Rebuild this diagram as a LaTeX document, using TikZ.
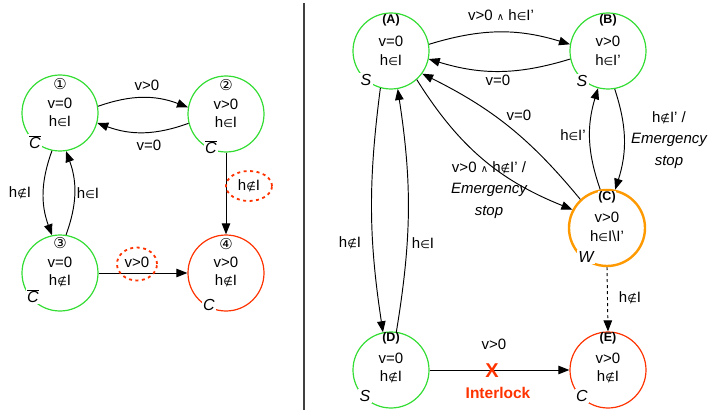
\documentclass[tikz,border=0pt]{standalone}
\usepackage{fontspec}
\setmainfont{Liberation Sans}
\newfontfamily\symf{DejaVu Sans}
\usetikzlibrary{arrows.meta,shapes.geometric}
\definecolor{gr}{HTML}{33DD33}
\definecolor{rd}{HTML}{FF3300}
\definecolor{og}{HTML}{FF9900}
\newcommand{\sIn}{{\symf\fontsize{11}{11}\selectfont ∈}}
\newcommand{\sNin}{{\symf\fontsize{11}{11}\selectfont ∉}}
\newcommand{\sAnd}{{\symf\fontsize{10}{10}\selectfont ∧}}
\newcommand{\cnum}[1]{{\symf\fontsize{15}{15}\selectfont #1}}
\newcommand{\cbar}{$\overline{\mbox{\itshape C}}$}
\begin{document}
\begin{tikzpicture}[x=1pt,y=1pt,
 state/.style={circle, minimum size=76pt, inner sep=0pt, line width=1.2pt},
 ok/.style={state, draw=gr},
 bad/.style={state, draw=rd},
 warn/.style={state, draw=og, line width=2.4pt},
 txt/.style={inner sep=0pt, font=\fontsize{15}{15}\selectfont},
 ttl/.style={inner sep=0pt, font=\fontsize{12.5}{12.5}\selectfont\bfseries},
 tag/.style={inner sep=1.5pt, fill=white, font=\fontsize{16}{16}\selectfont\itshape},
 lbl/.style={inner sep=0pt, font=\fontsize{15}{21.5}\selectfont, align=center},
 arr/.style={-{Triangle[length=11pt,width=8.5pt]}, line width=0.95pt},
 hl/.style={ellipse, draw=rd, line width=1.8pt, dash pattern=on 3pt off 3.5pt, inner sep=0pt},
]
\useasboundingbox (0,0) rectangle (713,-412);
% divider
\draw[line width=1.4pt, black!75] (304,-3) -- (304,-410);

% ---------- left graph ----------
\node[ok] (n1) at (60,-113) {};
\node[ok] (n2) at (226,-114) {};
\node[ok] (n3) at (60,-273) {};
\node[bad] (n4) at (226,-273) {};

\node[txt] (n1a) at (60,-84) {\cnum{①}};
\node[txt] (n1b) at (60,-103) {v=0};
\node[txt] (n1c) at (60,-121) {h\sIn I};
\node[tag] (n1d) at (35,-142) {\cbar};

\node[txt] (n2a) at (226,-85) {\cnum{②}};
\node[txt] (n2b) at (226,-104) {v>0};
\node[txt] (n2c) at (226,-122) {h\sIn I};
\node[tag] (n2d) at (211,-147) {\cbar};

\node[txt] (n3a) at (60,-243) {\cnum{③}};
\node[txt] (n3b) at (60,-262) {v=0};
\node[txt] (n3c) at (60,-281) {h\sNin I};
\node[tag] (n3d) at (33,-296) {\cbar};

\node[txt] (n4a) at (226,-244) {\cnum{④}};
\node[txt] (n4b) at (226,-262) {v>0};
\node[txt] (n4c) at (226,-281) {h\sNin I};
\node[tag] (n4d) at (209,-305) {C};

\draw[arr] (n1.10) to[bend left=20] (n2.170);
\draw[arr] (n2.194) to[bend left=20] (n1.345);
\draw[arr] (n1.258) to[bend right=20] (n3.102);
\draw[arr] (n3.81) to[bend right=20] (n1.279);
\draw[arr] (n2.south) -- (n4.north);
\draw[arr] (n3.east) -- (n4.west);

\node[lbl] (l12) at (147,-85) {v>0};
\node[lbl] (l21) at (149,-145) {v=0};
\node[lbl] (l13) at (20,-193) {h\sNin I};
\node[lbl] (l31) at (88,-193) {h\sIn I};
\node[lbl, fill=white, minimum width=42pt, minimum height=28pt] (l24) at (249,-186) {h\sNin I};
\node[hl, minimum width=46pt, minimum height=30pt] (e24) at (249,-186) {};
\node[lbl] (l34) at (137,-262) {v>0};
\node[hl, minimum width=40pt, minimum height=33pt] (e34) at (137,-264) {};

% ---------- right graph ----------
\node[ok] (A) at (391,-51) {};
\node[ok] (B) at (608,-51) {};
\node[warn] (C) at (607,-228) {};
\node[ok] (D) at (391,-370) {};
\node[bad] (E) at (608,-370) {};

\node[ttl] (Aa) at (391,-20) {(A)};
\node[txt] (Ab) at (391,-41) {v=0};
\node[txt] (Ac) at (391,-60) {h\sIn I};
\node[tag] (Ad) at (366,-80) {S};

\node[ttl] (Ba) at (608,-20) {(B)};
\node[txt] (Bb) at (608,-41) {v>0};
\node[txt] (Bc) at (608,-60) {h\sIn I'};
\node[tag] (Bd) at (582,-81) {S};

\node[ttl, fill=white, inner sep=0.5pt] (Ca) at (607,-197) {(C)};
\node[txt] (Cb) at (607,-217) {v>0};
\node[txt] (Cc) at (607,-236) {h\sIn I\textbackslash I'};
\node[tag] (Cd) at (586,-257) {W};

\node[ttl] (Da) at (391,-338) {(D)};
\node[txt] (Db) at (391,-358) {v=0};
\node[txt] (Dc) at (391,-377) {h\sNin I};
\node[tag] (Dd) at (365,-396) {S};

\node[ttl] (Ea) at (608,-338) {(E)};
\node[txt] (Eb) at (608,-358) {v>0};
\node[txt] (Ec) at (608,-377) {h\sNin I};
\node[tag] (Ed) at (582,-396) {C};

\draw[arr] (A.10) to[bend left=17] (B.170);
\draw[arr] (B.192) to[bend left=17] (A.348);
\draw[arr] (A.-48) to[bend right=18] (C.152);
\draw[arr] (C.133) to[bend right=12] (A.-36);
\draw[arr] (C.100) to[bend left=18] (B.255);
\draw[arr] (B.280) to[bend left=18] (C.78);
\draw[arr] (A.254) to[bend right=8] (D.102);
\draw[arr] (D.82) to[bend right=9] (A.280);
\draw[arr, dashed] (C.south) -- (E.north);
\draw[arr] (D.east) -- (E.west);

\node[lbl] (lAB) at (501,-15) {v>0 \sAnd\ h\sIn I'};
\node[lbl] (lBA) at (498,-80) {v=0};
\node[lbl] (lCA) at (519,-115) {v=0};
\node[lbl] (lAC) at (489,-190) {v>0 \sAnd\ h\sNin I' /\\\itshape Emergency\\\itshape stop};
\node[lbl] (lCB) at (573,-135) {h\sIn I'};
\node[lbl] (lBC) at (669,-140) {h\sNin I' /\\\itshape Emergency\\\itshape stop};
\node[lbl] (lAD) at (350,-243) {h\sNin I};
\node[lbl] (lDA) at (423,-243) {h\sIn I};
\node[lbl] (lCE) at (630,-298) {h\sNin I};
\node[lbl] (lDE) at (494,-344) {v>0};
\node[inner sep=0pt, text=rd, font=\fontsize{20}{20}\selectfont\bfseries] (X) at (492,-371) {X};
\node[inner sep=0pt, text=rd, font=\fontsize{15.5}{15.5}\selectfont\bfseries] (il) at (498,-393) {Interlock};
\end{tikzpicture}
\end{document}
